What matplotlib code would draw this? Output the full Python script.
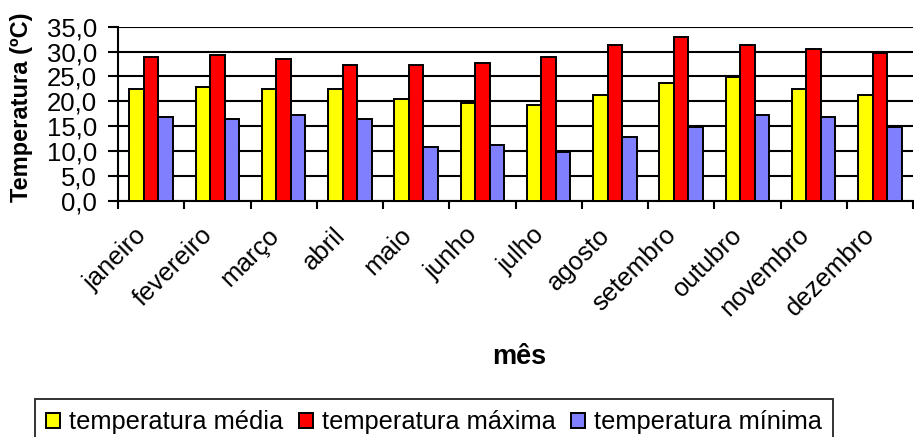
import matplotlib
matplotlib.use("Agg")
import matplotlib.pyplot as plt
import matplotlib.transforms as mtransforms
import numpy as np
from matplotlib.patches import Patch

plt.rcParams['font.family'] = ['Liberation Sans', 'DejaVu Sans']

months = ["janeiro", "fevereiro", "março", "abril", "maio", "junho",
          "julho", "agosto", "setembro", "outubro", "novembro", "dezembro"]
t_media = [22.5, 22.9, 22.5, 22.5, 20.5, 19.6, 19.2, 21.3, 23.7, 24.8, 22.5, 21.3]
t_max = [29.0, 29.4, 28.6, 27.4, 27.4, 27.8, 29.0, 31.4, 33.0, 31.4, 30.6, 29.8]
t_min = [16.9, 16.5, 17.3, 16.5, 10.9, 11.3, 9.9, 12.9, 14.9, 17.2, 16.9, 14.9]
series_names = ["temperatura média", "temperatura máxima", "temperatura mínima"]
colors = ["#FFFF00", "#FF0000", "#8080FF"]
yticks = [0, 5, 10, 15, 20, 25, 30, 35]

FS = 18.5

fig = plt.figure(figsize=(9.14, 4.37), dpi=100)
ax = fig.add_axes([118/914, 1-201/437, (913-118)/914, (201-26.7)/437])

x = np.arange(len(months))
w = 0.22
for i, (vals, c) in enumerate(zip([t_media, t_max, t_min], colors)):
    ax.bar(x + (i-1)*w, vals, width=w, color=c, edgecolor='black', linewidth=1.4, zorder=3)

ax.set_xlim(-0.5, len(months)-0.5)
ax.set_ylim(0, 35)
ax.set_yticks(yticks)
ax.set_yticklabels([f"{v:.1f}".replace('.', ',') for v in yticks], fontsize=FS)
for v in yticks:
    ax.axhline(v, color='black', linewidth=1.5, zorder=1)

ax.set_xticks(np.arange(-0.5, len(months), 1.0))
ax.set_xticklabels([])
ax.set_xticks(x, minor=True)
ax.set_xticklabels(months, minor=True, rotation=45, ha='right', va='top',
                   rotation_mode='anchor', fontsize=FS)
ax.tick_params(axis='x', which='major', length=6, width=1.5, direction='out')
ax.tick_params(axis='x', which='minor', length=0, pad=18)
ax.tick_params(axis='y', length=7, width=1.5, direction='out', pad=8)
off = mtransforms.ScaledTranslation(-17/100, 3/100, fig.dpi_scale_trans)
for lab in ax.get_xticklabels(minor=True):
    lab.set_transform(lab.get_transform() + off)

for s in ['top', 'right']:
    ax.spines[s].set_visible(False)
ax.spines['left'].set_linewidth(1.5)
ax.spines['bottom'].set_linewidth(1.5)

ax.set_ylabel("Temperatura (ºC)", fontsize=17, fontweight='bold')
ax.yaxis.set_label_coords(-85/795, 0.539)
fig.text(519/914, 1-357/437, "mês", fontsize=19.5, fontweight='bold', ha='center', va='center')

handles = [Patch(facecolor=c, edgecolor='black', linewidth=1.4) for c in colors]
leg = fig.legend(handles, series_names, loc='upper left', bbox_to_anchor=(35/914, 1-399/437),
                 ncol=3, frameon=True, fancybox=False, edgecolor='black', fontsize=18.3,
                 handlelength=0.55, handleheight=0.55, handletextpad=0.35, columnspacing=0.6,
                 borderpad=0.45, borderaxespad=0)
leg.get_frame().set_linewidth(1.4)

fig.savefig("out.png", dpi=100)
